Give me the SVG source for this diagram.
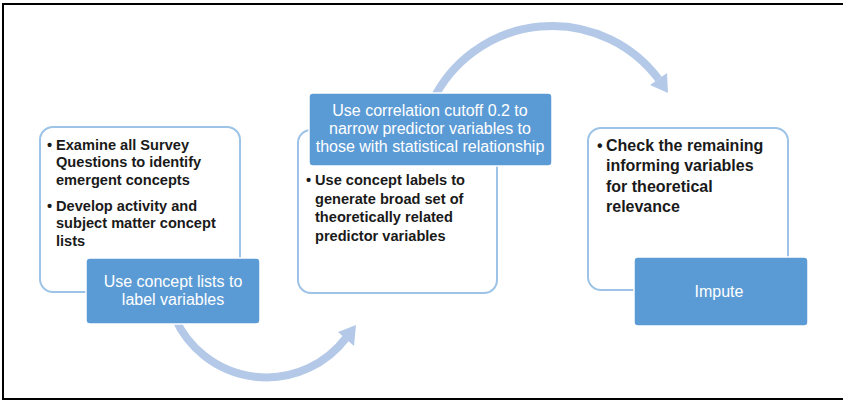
<svg xmlns="http://www.w3.org/2000/svg" width="843" height="400" viewBox="0 0 843 400">
  <defs>
    <style>
      .panel { fill: #ffffff; stroke: #9dc3e6; stroke-width: 2; }
      .tag { fill: #5b9bd5; stroke: #ffffff; stroke-width: 1.5; }
      .flow { fill: none; stroke: #b4c9e8; stroke-width: 8; }
      .head { fill: #b4c9e8; }
      .bul { font-family: "Liberation Sans", Arial, sans-serif; font-weight: bold; font-size: 14.6px; fill: #1a1a1a; }
      .bul3 { font-family: "Liberation Sans", Arial, sans-serif; font-weight: bold; font-size: 16px; fill: #1a1a1a; }
      .lbl { font-family: "Liberation Sans", Arial, sans-serif; font-size: 16px; fill: #ffffff; text-anchor: middle; }
    </style>
  </defs>

  <rect width="843" height="400" fill="#ffffff"/>
  <!-- outer frame (open on the right) -->
  <path d="M 845 4 H 3 V 399 H 845" fill="none" stroke="#000000" stroke-width="2"/>

  <!-- curved flow arrows, drawn beneath the step boxes -->
  <g id="connectors">
    <path class="flow" d="M 175 318 A 100 100 0 0 0 346 338"/>
    <polygon class="head" points="356,325 354,346 338,332"/>
    <path class="flow" d="M 433 100 A 133 133 0 0 1 658.6 79.1"/>
    <polygon class="head" points="668,93 667,73 650,85"/>
  </g>

  <!-- step 1 -->
  <g id="step1">
    <rect class="panel" x="40" y="127" width="200" height="165" rx="13"/>
    <text class="bul" x="47" y="149.5">•</text>
    <text class="bul" x="56" y="149.5">Examine all Survey</text>
    <text class="bul" x="56" y="167">Questions to identify</text>
    <text class="bul" x="56" y="185">emergent concepts</text>
    <text class="bul" x="47" y="210.5">•</text>
    <text class="bul" x="56" y="210.5">Develop activity and</text>
    <text class="bul" x="56" y="228">subject matter concept</text>
    <text class="bul" x="56" y="246">lists</text>
  </g>
  <g id="step1-label">
    <rect class="tag" x="86" y="258" width="174" height="66" rx="4"/>
    <text class="lbl" x="173" y="287">Use concept lists to</text>
    <text class="lbl" x="173" y="305">label variables</text>
  </g>

  <!-- step 2 -->
  <g id="step2">
    <rect class="panel" x="298" y="130" width="199" height="163" rx="13"/>
    <text class="bul" x="306" y="185">•</text>
    <text class="bul" x="315" y="185">Use concept labels to</text>
    <text class="bul" x="315" y="203.5">generate broad set of</text>
    <text class="bul" x="315" y="222">theoretically related</text>
    <text class="bul" x="315" y="240.5">predictor variables</text>
  </g>
  <g id="step2-label">
    <rect class="tag" x="309" y="93" width="243" height="73" rx="4"/>
    <text class="lbl" x="430" y="116">Use correlation cutoff 0.2 to</text>
    <text class="lbl" x="430" y="134">narrow predictor variables to</text>
    <text class="lbl" x="430" y="152">those with statistical relationship</text>
  </g>

  <!-- step 3 -->
  <g id="step3">
    <rect class="panel" x="588" y="128" width="200" height="162" rx="13"/>
    <text class="bul3" x="597" y="150.5">•</text>
    <text class="bul3" x="606" y="150.5">Check the remaining</text>
    <text class="bul3" x="606" y="171">informing variables</text>
    <text class="bul3" x="606" y="191.5">for theoretical</text>
    <text class="bul3" x="606" y="212">relevance</text>
  </g>
  <g id="step3-label">
    <rect class="tag" x="634" y="257" width="174" height="69" rx="4"/>
    <text class="lbl" x="719" y="297">Impute</text>
  </g>
</svg>
